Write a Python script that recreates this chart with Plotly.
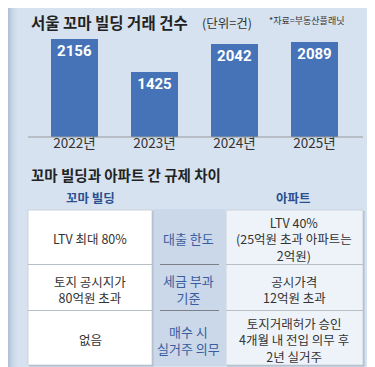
import plotly.graph_objects as go

W, H = 375, 367

# ---- data ----
years = ["2022년", "2023년", "2024년", "2025년"]
counts = [2156, 1425, 2042, 2089]

title_main = "서울 꼬마 빌딩 거래 건수"
title_unit = "(단위=건)"
title_src = "*자료=부동산플래닛"
section_title = "꼬마 빌딩과 아파트 간 규제 차이"
col_headers = ["꼬마 빌딩", "아파트"]
row_labels = ["대출 한도", "세금 부과\n기준", "매수 시\n실거주 의무"]
left_texts = ["LTV 최대 80%", "토지 공시지가\n80억원 초과", "없음"]
right_texts = ["LTV 40%\n(25억원 초과 아파트는\n2억원)", "공시가격\n12억원 초과",
               "토지거래허가 승인\n4개월 내 전입 의무 후\n2년 실거주"]

BG = "#d6e2f0"
BAR = "#4673b8"
FONT = "Liberation Sans Narrow, Arial Narrow, Noto Sans CJK KR, sans-serif"
KFONT = "Noto Sans CJK KR, sans-serif"


def px(x):
    return x / W


def py(y):
    return 1 - y / H


fig = go.Figure()
fig.add_trace(go.Bar(
    x=years, y=counts, marker=dict(color=BAR, line=dict(width=0)),
    width=0.59, text=["<b>%d</b>" % v for v in counts], textposition="inside",
    insidetextanchor="end",
    textfont=dict(color="white", size=15, family="Liberation Sans Narrow, Arial Narrow, Roboto, sans-serif"),
    hoverinfo="skip",
))

shapes = []
annotations = []

# left edge shading
for i, op in enumerate([0.55, 0.4, 0.28, 0.18, 0.1, 0.05]):
    shapes.append(dict(type="rect", xref="paper", yref="paper",
                       x0=px(i * 1.5), x1=px(i * 1.5 + 1.5), y0=0, y1=1,
                       fillcolor="#8fa6c2", opacity=op, line=dict(width=0), layer="below"))

# axis baseline
shapes.append(dict(type="line", xref="paper", yref="paper", x0=px(20), x1=px(355),
                   y0=py(129), y1=py(129), line=dict(color="#9a9a9a", width=1)))

# titles
annotations.append(dict(text="<b>" + title_main + "</b>", x=px(21), y=py(14), xref="paper", yref="paper",
                        xanchor="left", yanchor="middle", showarrow=False,
                        font=dict(size=15.5, color="#222222", family=KFONT)))
annotations.append(dict(text=title_unit, x=px(192), y=py(14.5), xref="paper", yref="paper",
                        xanchor="left", yanchor="middle", showarrow=False,
                        font=dict(size=12.5, color="#333333", family=FONT)))
annotations.append(dict(text=title_src, x=px(259), y=py(13), xref="paper", yref="paper",
                        xanchor="left", yanchor="middle", showarrow=False,
                        font=dict(size=9, color="#333333", family=FONT)))
annotations.append(dict(text="<b>" + section_title + "</b>", x=px(21), y=py(166), xref="paper", yref="paper",
                        xanchor="left", yanchor="middle", showarrow=False,
                        font=dict(size=14.5, color="#222222", family=KFONT)))

# column headers
for txt, cx in zip(col_headers, [82, 285]):
    annotations.append(dict(text="<b>" + txt + "</b>", x=px(cx), y=py(189), xref="paper", yref="paper",
                            xanchor="center", yanchor="middle", showarrow=False,
                            font=dict(size=12.5, color="#2b4f8e", family=KFONT)))

# table geometry
rows_y = [(202, 256), (257, 302), (303, 357)]
LX0, LX1 = 20, 144
RX0, RX1 = 218, 355
MX0, MX1 = 145, 217

# middle column background
shapes.append(dict(type="rect", xref="paper", yref="paper", x0=px(MX0), x1=px(MX1),
                   y0=py(358), y1=py(201), fillcolor="#cad8ea", line=dict(width=0), layer="below"))

# boxes with subtle shadow
for (x0, x1, fill) in [(LX0, LX1, "#ffffff"), (RX0, RX1, "#eef3fa")]:
    shapes.append(dict(type="rect", xref="paper", yref="paper", x0=px(x0 + 1), x1=px(x1 + 1.5),
                       y0=py(rows_y[-1][1] + 1.5), y1=py(rows_y[0][0] + 1),
                       fillcolor="#aebccd", line=dict(width=0), layer="below"))
    shapes.append(dict(type="rect", xref="paper", yref="paper", x0=px(x0), x1=px(x1),
                       y0=py(rows_y[-1][1]), y1=py(rows_y[0][0]),
                       fillcolor=fill, line=dict(color="#c4ccd6", width=0.8), layer="below"))
    for (ya, yb) in rows_y[:-1]:
        shapes.append(dict(type="line", xref="paper", yref="paper", x0=px(x0), x1=px(x1),
                           y0=py(yb + 0.5), y1=py(yb + 0.5), line=dict(color="#b8bec8", width=1)))

# middle separators
for (ya, yb) in rows_y[:-1]:
    shapes.append(dict(type="line", xref="paper", yref="paper", x0=px(152), x1=px(211),
                       y0=py(yb + 0.5), y1=py(yb + 0.5), line=dict(color="#7a7f88", width=1)))


def add_text(text, cx, cy, color, size, family=FONT):
    annotations.append(dict(text=text.replace("\n", "<br>"), x=px(cx), y=py(cy),
                            xref="paper", yref="paper", align="center",
                            xanchor="center", yanchor="middle", showarrow=False,
                            font=dict(size=size, color=color, family=family)))


for (ya, yb), lt, rt, ml in zip(rows_y, left_texts, right_texts, row_labels):
    cy = (ya + yb) / 2 + 1.5
    add_text(lt, 82, cy, "#333333", 12.5)
    add_text(rt, 286, cy, "#333333", 12.5)
    add_text(ml, 180, cy, "#3a5d9e", 13, family=KFONT)

fig.update_layout(
    width=W, height=H, margin=dict(l=0, r=0, t=0, b=0),
    paper_bgcolor=BG, plot_bgcolor="rgba(0,0,0,0)",
    showlegend=False, bargap=0,
    xaxis=dict(domain=[px(20), px(355)], range=[-0.58125, 3.60625], showline=False,
               showgrid=False, ticks="", tickfont=dict(size=13.5, color="#333333", family=FONT),
               fixedrange=True, ticklabelstandoff=-4),
    yaxis=dict(domain=[py(129), py(18.35)], range=[0, 2434], visible=False, fixedrange=True),
    shapes=shapes, annotations=annotations,
)

fig.write_html("out.html")
